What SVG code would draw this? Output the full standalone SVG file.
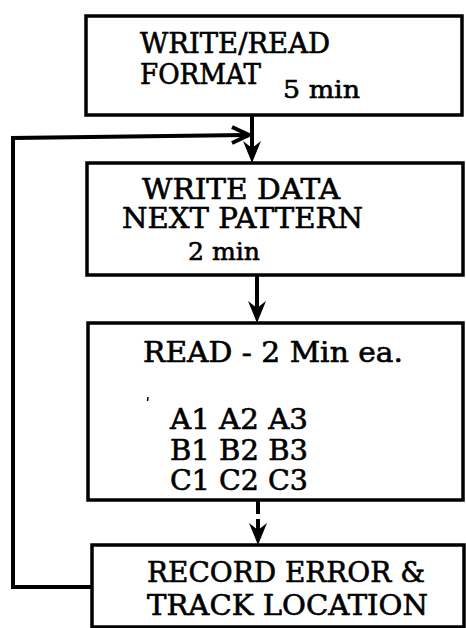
<svg xmlns="http://www.w3.org/2000/svg" width="466" height="628" viewBox="0 0 466 628">
<defs>
<style>
.box{fill:#fff;stroke:#000;stroke-width:3.5}
.t{font-family:"DejaVu Serif","Liberation Serif",serif;font-size:27px;fill:#000;stroke:#000;stroke-width:0.6}
.s{font-family:"DejaVu Serif","Liberation Serif",serif;font-size:25px;fill:#000;stroke:#000;stroke-width:0.6}
.c{fill:none;stroke:#000;stroke-width:4}
.ah{fill:#000;stroke:none}
</style>
</defs>
<rect width="466" height="628" fill="#fff"/>
<g id="connectors">
<line class="c" x1="252" y1="115" x2="252" y2="150"/>
<path class="ah" d="M252,163 L243,141 L252,148 L261,141 Z"/>
<path class="c" d="M92,587 L13,587 L13,138 L246,135"/>
<path class="c" d="M232,127 L249,135 L232,143" stroke-width="3.5"/>
<line class="c" x1="257" y1="275" x2="257" y2="308"/>
<path class="ah" d="M257,323 L248,301 L257,308 L266,301 Z"/>
<line class="c" x1="258" y1="500" x2="258" y2="514"/>
<line class="c" x1="258" y1="519" x2="258" y2="530"/>
<path class="ah" d="M258,545 L249,523 L258,530 L267,523 Z"/>
</g>
<g id="n1">
<rect class="box" x="86" y="16" width="376" height="99"/>
<text class="t" x="140" y="53" textLength="190" lengthAdjust="spacingAndGlyphs">WRITE/READ</text>
<text class="t" x="140" y="84" textLength="121" lengthAdjust="spacingAndGlyphs">FORMAT</text>
<text class="s" x="283" y="98" textLength="77" lengthAdjust="spacingAndGlyphs">5 min</text>
</g>
<g id="n2">
<rect class="box" x="87" y="163" width="376" height="112"/>
<text class="t" x="142" y="199" textLength="198" lengthAdjust="spacingAndGlyphs">WRITE DATA</text>
<text class="t" x="122" y="228" textLength="241" lengthAdjust="spacingAndGlyphs">NEXT PATTERN</text>
<text class="s" x="188" y="260" textLength="72" lengthAdjust="spacingAndGlyphs">2 min</text>
</g>
<g id="n3">
<rect class="box" x="88" y="323" width="375" height="177"/>
<text class="t" x="143" y="362" textLength="260" lengthAdjust="spacingAndGlyphs">READ - 2 Min ea.</text>
<text class="t" x="170" y="429" textLength="138" lengthAdjust="spacingAndGlyphs">A1 A2 A3</text>
<text class="t" x="170" y="460" textLength="138" lengthAdjust="spacingAndGlyphs">B1 B2 B3</text>
<text class="t" x="170" y="490" textLength="138" lengthAdjust="spacingAndGlyphs">C1 C2 C3</text>
<line x1="148" y1="397" x2="147.5" y2="401" stroke="#000" stroke-width="1.5"/>
</g>
<g id="n4">
<rect class="box" x="92" y="545" width="372" height="82"/>
<text class="t" x="147" y="582" textLength="278" lengthAdjust="spacingAndGlyphs">RECORD ERROR &amp;</text>
<text class="t" x="147" y="615" textLength="281" lengthAdjust="spacingAndGlyphs">TRACK LOCATION</text>
</g>
</svg>
